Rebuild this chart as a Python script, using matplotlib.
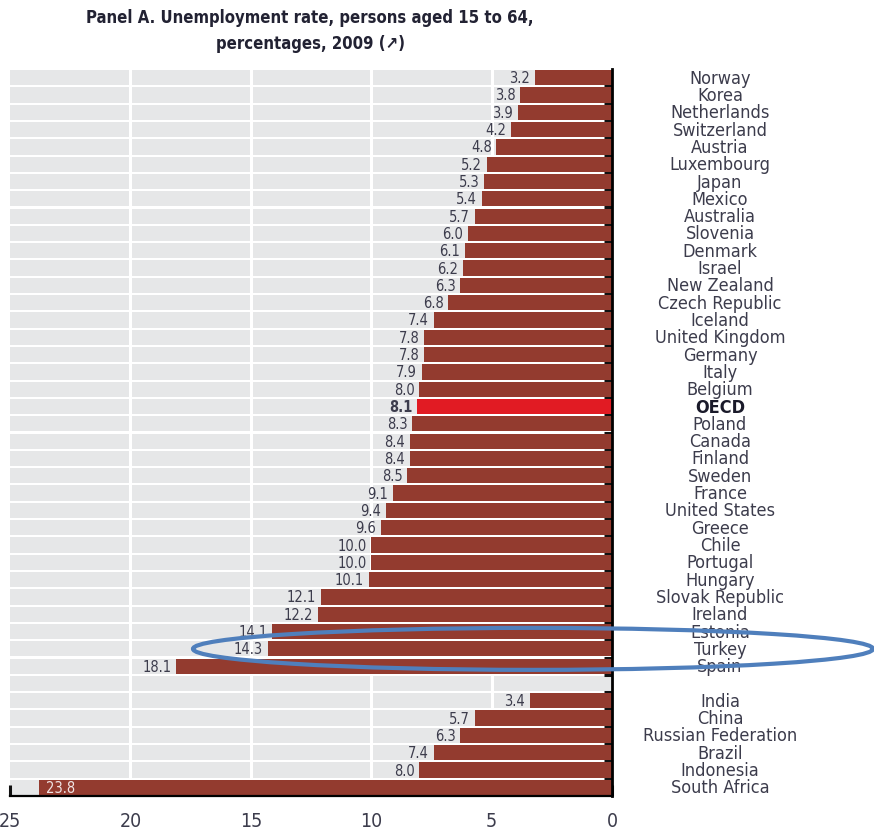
import matplotlib
matplotlib.use("Agg")
import matplotlib.pyplot as plt
from matplotlib import font_manager
from matplotlib.patches import Ellipse
from matplotlib.transforms import blended_transform_factory

# ---------------- data ----------------
countries = ["Norway", "Korea", "Netherlands", "Switzerland", "Austria", "Luxembourg",
             "Japan", "Mexico", "Australia", "Slovenia", "Denmark", "Israel",
             "New Zealand", "Czech Republic", "Iceland", "United Kingdom", "Germany",
             "Italy", "Belgium", "OECD", "Poland", "Canada", "Finland", "Sweden",
             "France", "United States", "Greece", "Chile", "Portugal", "Hungary",
             "Slovak Republic", "Ireland", "Estonia", "Turkey", "Spain",
             "",
             "India", "China", "Russian Federation", "Brazil", "Indonesia", "South Africa"]
values = [3.2, 3.8, 3.9, 4.2, 4.8, 5.2,
          5.3, 5.4, 5.7, 6.0, 6.1, 6.2,
          6.3, 6.8, 7.4, 7.8, 7.8,
          7.9, 8.0, 8.1, 8.3, 8.4, 8.4, 8.5,
          9.1, 9.4, 9.6, 10.0, 10.0, 10.1,
          12.1, 12.2, 14.1, 14.3, 18.1,
          None,
          3.4, 5.7, 6.3, 7.4, 8.0, 23.8]
xticks = [25, 20, 15, 10, 5, 0]
highlight = "OECD"
circled = "Turkey"
title = "Panel A. Unemployment rate, persons aged 15 to 64,\npercentages, 2009 (\u2197)"

# ---------------- fonts ----------------
names = {f.name for f in font_manager.fontManager.ttflist}
stretch = "normal"
if "Liberation Sans Narrow" in names:
    cond = "Liberation Sans Narrow"
else:
    cond = "DejaVu Sans"
    stretch = "condensed"
fam = [cond, "DejaVu Sans"]
plt.rcParams["font.family"] = fam

W, H = 874, 837
fig = plt.figure(figsize=(W / 100, H / 100), dpi=100)
ax_l, ax_r, ax_t, ax_b = 10, 612, 70, 797
ax = fig.add_axes([ax_l / W, 1 - ax_b / H, (ax_r - ax_l) / W, (ax_b - ax_t) / H])

n = len(countries)
ypos = list(range(n))
xmax = xticks[0]

BAND = "#e6e7e8"
BAR = "#933b2f"
RED = "#e11b23"
TXT = "#3c3c4c"

# background bands
ax.barh(ypos, [xmax] * n, height=0.88, color=BAND, zorder=1, linewidth=0)
# white vertical grid lines
for t in xticks[1:-1]:
    ax.axvline(t, color="white", lw=2.2, zorder=2)

# bars
for y, c, v in zip(ypos, countries, values):
    if v is None:
        continue
    col = RED if c == highlight else BAR
    ax.barh(y, v, height=0.88, color=col, zorder=3, linewidth=0)
    bold = "bold" if c == highlight else "normal"
    if v > 20:
        ax.text(v - 0.3, y, f"{v:.1f}", ha="left", va="center", fontsize=10.5,
                color="#f0e4e4", zorder=4, fontstretch=stretch)
    else:
        ax.text(v + 0.2, y, f"{v:.1f}", ha="right", va="center", fontsize=10.5,
                color=TXT, zorder=4, fontweight=bold, fontstretch=stretch)

# country labels on the right
trans = blended_transform_factory(ax.transAxes, ax.transData)
xlab = (720 - ax_l) / (ax_r - ax_l)
for y, c in zip(ypos, countries):
    if not c:
        continue
    ax.text(xlab, y, c, transform=trans, ha="center", va="center",
            fontsize=13, color=TXT if c != highlight else "#1a1a2a",
            fontweight="bold" if c == highlight else "normal",
            fontstretch=stretch, clip_on=False)

ax.set_xlim(xmax, 0)
ax.set_ylim(n - 0.5, -0.5)

# spines & ticks
for s in ["left", "top"]:
    ax.spines[s].set_visible(False)
ax.spines["right"].set_linewidth(2)
ax.spines["bottom"].set_linewidth(1.6)
ax.spines["right"].set_zorder(5)
ax.spines["bottom"].set_zorder(5)

ax.set_xticks(xticks)
ax.set_xticklabels([str(t) for t in xticks])
ax.tick_params(axis="x", direction="in", length=8, width=2.2, pad=11,
               labelsize=14, labelcolor=TXT, color="#111111")
for lbl in ax.get_xticklabels():
    lbl.set_fontstretch(stretch)

ax.yaxis.tick_right()
ax.set_yticks([y + 0.5 for y in ypos[:-1]])
ax.set_yticklabels([])
ax.tick_params(axis="y", direction="in", length=6, width=2.2, color="#111111")

# ellipse annotation around the circled row
iy = countries.index(circled)
px_per_unit = (ax_r - ax_l) / xmax
px_per_row = (ax_b - ax_t) / n
ell = Ellipse(((ax_r - 533) / px_per_unit, iy), width=680 / px_per_unit,
              height=42 / px_per_row, fill=False, edgecolor="#4f7fbc", lw=3,
              zorder=10, clip_on=False)
ax.add_patch(ell)

fig.text(310 / W, 1 - 31 / H, title, ha="center", va="center", fontsize=12,
         fontweight="bold", color="#222233", linespacing=1.55, fontstretch=stretch)

fig.savefig("out.png", dpi=100)
